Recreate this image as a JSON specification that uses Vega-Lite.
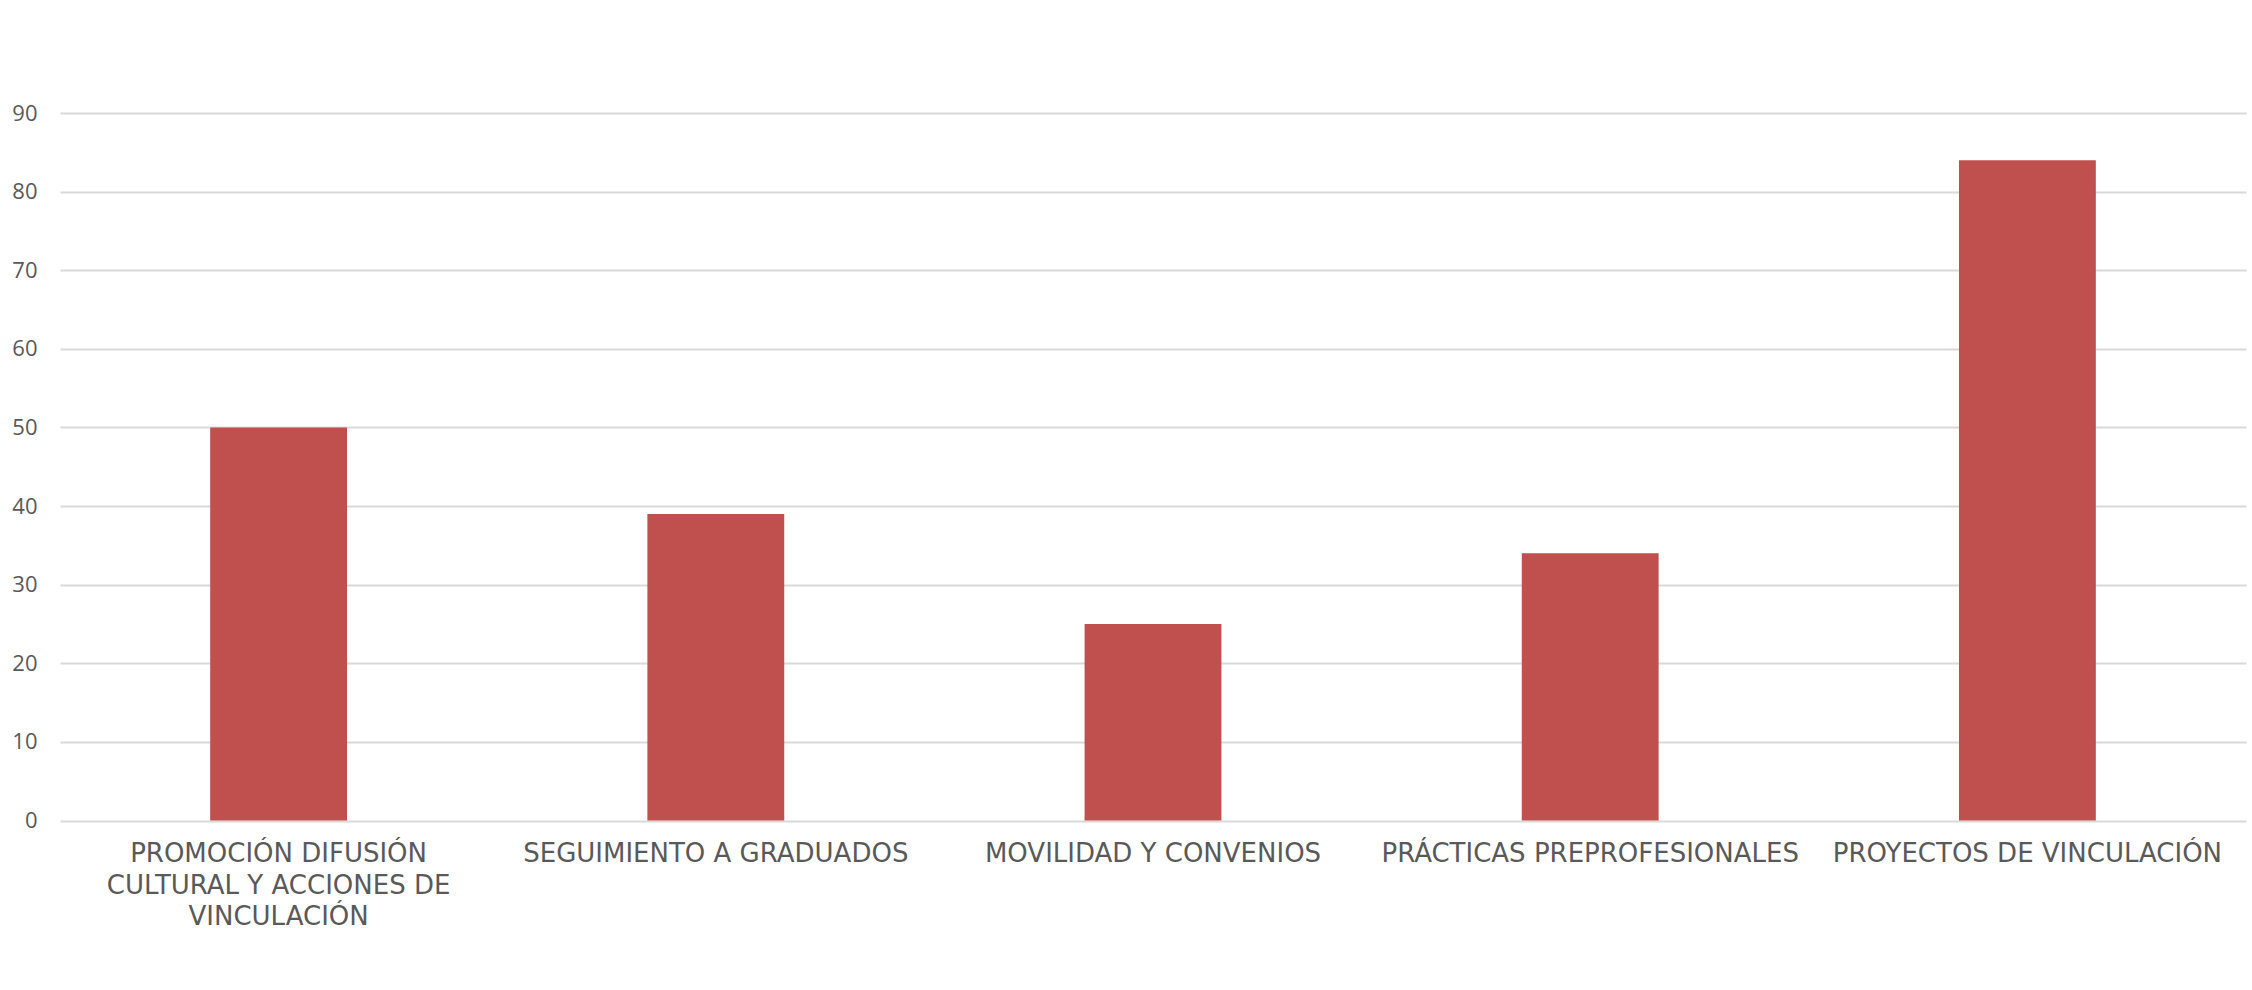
{
  "$schema": "https://vega.github.io/schema/vega-lite/v6.json",
  "width": 2186,
  "height": 707.5,
  "autosize": {"type": "none"},
  "padding": {"left": 60, "top": 113, "right": 6, "bottom": 169.5},
  "background": "white",
  "data": {
    "values": [
      {"categoria": "PROMOCIÓN DIFUSIÓN|CULTURAL Y ACCIONES DE|VINCULACIÓN", "valor": 50},
      {"categoria": "SEGUIMIENTO A GRADUADOS", "valor": 39},
      {"categoria": "MOVILIDAD Y CONVENIOS", "valor": 25},
      {"categoria": "PRÁCTICAS PREPROFESIONALES", "valor": 34},
      {"categoria": "PROYECTOS DE VINCULACIÓN", "valor": 84}
    ]
  },
  "mark": {"type": "bar", "color": "#C0504D"},
  "encoding": {
    "x": {
      "field": "categoria",
      "type": "nominal",
      "sort": null,
      "scale": {"paddingInner": 0.687, "paddingOuter": 0.3435},
      "axis": {
        "title": null,
        "labelAngle": 0,
        "labelExpr": "split(datum.label, '|')",
        "labelFont": "DejaVu Sans",
        "labelFontSize": 26,
        "labelColor": "#595959",
        "labelLineHeight": 31.6,
        "labelPadding": 20,
        "labelBaseline": "top",
        "labelLimit": 0,
        "ticks": false,
        "domain": false,
        "grid": false
      }
    },
    "y": {
      "field": "valor",
      "type": "quantitative",
      "scale": {"domain": [0, 90], "nice": false},
      "axis": {
        "title": null,
        "values": [0, 10, 20, 30, 40, 50, 60, 70, 80, 90],
        "labelFont": "Open Sans",
        "labelFontSize": 22,
        "labelColor": "#595959",
        "labelPadding": 23,
        "ticks": false,
        "domain": false,
        "grid": true,
        "gridColor": "#d9d9d9",
        "gridWidth": 2
      }
    }
  },
  "config": {"view": {"stroke": null}}
}
